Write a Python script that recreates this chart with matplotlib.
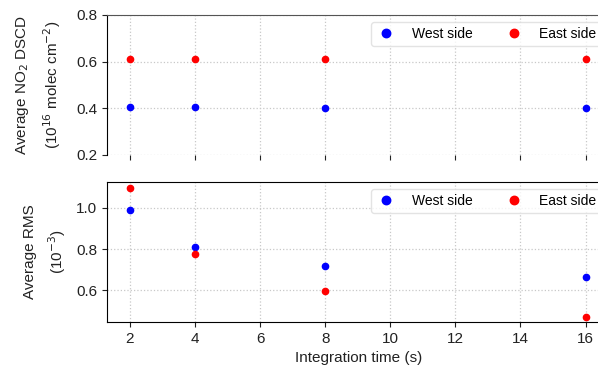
import matplotlib
matplotlib.use("Agg")
import matplotlib.pyplot as plt

plt.rcParams['font.family'] = ['Liberation Sans', 'DejaVu Sans']

times = [2, 4, 8, 16]
dscd_west = [0.405, 0.405, 0.402, 0.402]
dscd_east = [0.611, 0.611, 0.611, 0.611]
rms_west = [0.99, 0.81, 0.718, 0.667]
rms_east = [1.097, 0.776, 0.595, 0.472]
xticks = [2, 4, 6, 8, 10, 12, 14, 16]
labels = ['West side', 'East side']

W, H = 598, 371
fig = plt.figure(figsize=(W / 100, H / 100), dpi=100)

left = 107 / W
width = (610 - 107) / W
ax1 = fig.add_axes([left, 1 - 155 / H, width, 140 / H])
ax2 = fig.add_axes([left, 1 - 322 / H, width, 140 / H])

for ax, w, e in [(ax1, dscd_west, dscd_east), (ax2, rms_west, rms_east)]:
    ax.plot(times, w, 'o', color='blue', ms=4.5, label=labels[0], zorder=3)
    ax.plot(times, e, 'o', color='red', ms=4.5, label=labels[1], zorder=3)
    ax.set_xlim(1.3, 16.75)
    ax.set_xticks(xticks)
    ax.grid(True, linestyle=':', color='#c8c8c8', linewidth=0.9)
    ax.tick_params(labelsize=11, colors='#222222')
    ax.spines['right'].set_visible(False)
    leg = ax.legend(loc='upper left', bbox_to_anchor=(0.525, 0.95), ncol=2,
                    fontsize=10, markerscale=1.35, columnspacing=2.2,
                    handlelength=1.5, handletextpad=1.1, borderaxespad=0,
                    frameon=True, borderpad=0.35)
    leg.get_frame().set_edgecolor('#dddddd')
    leg.get_frame().set_linewidth(1.0)

ax1.set_ylim(0.2, 0.8)
ax1.set_yticks([0.2, 0.4, 0.6, 0.8])
ax1.tick_params(axis='x', labelbottom=False)
ax1.spines['bottom'].set_visible(False)
ax1.spines['top'].set_color('#555555')
ax1.set_ylabel('Average NO$_2$ DSCD\n(10$^{16}$ molec cm$^{-2}$)', fontsize=11,
               color='#222222', linespacing=1.6)
ax1.yaxis.set_label_coords(-0.088, 0.5)

ax2.set_ylim(0.447, 1.126)
ax2.set_yticks([0.6, 0.8, 1.0])
ax2.set_ylabel('Average RMS\n(10$^{-3}$)', fontsize=11, color='#222222',
               linespacing=1.6)
ax2.yaxis.set_label_coords(-0.077, 0.5)
ax2.set_xlabel('Integration time (s)', fontsize=11, color='#222222')

fig.savefig('out.png', dpi=100)
